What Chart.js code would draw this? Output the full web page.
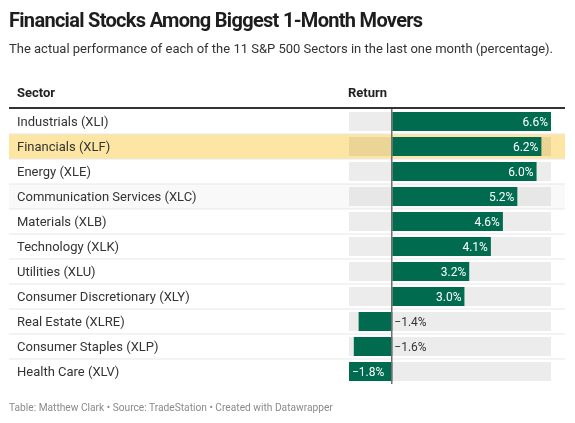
<!DOCTYPE html>
<html>
<head>
<meta charset="utf-8">
<script src="https://cdn.jsdelivr.net/npm/chart.js@4"></script>
<style>
    html, body { margin: 0; padding: 0; background: #ffffff; }
    body { width: 575px; height: 423px; position: relative; overflow: hidden; font-family: Roboto, 'Noto Sans', sans-serif; color: #333333; }
    #chart { position: absolute; left: 0; top: 0; }
    .txt { position: absolute; white-space: nowrap; }
    .title { left: 9px; top: 7px; font-size: 20px; line-height: 26px; font-weight: 700; color: #1d1d1d; letter-spacing: -0.7px; }
    .subtitle { left: 9px; top: 41px; font-size: 13px; line-height: 16px; color: #333333; }
    .head { top: 85px; font-size: 13px; line-height: 16px; font-weight: 700; color: #222222; }
    .footer { left: 9px; top: 401px; font-size: 10.2px; line-height: 14px; color: #8a8a8a; }
</style>
</head>
<body>
<canvas id="chart" width="575" height="423"></canvas>
<div class="txt title">Financial Stocks Among Biggest 1-Month Movers</div>
<div class="txt subtitle">The actual performance of each of the 11 S&amp;P 500 Sectors in the last one month (percentage).</div>
<div class="txt head" style="left:17px">Sector</div>
<div class="txt head" style="left:348px">Return</div>
<div class="txt footer">Table: Matthew Clark • Source: TradeStation • Created with Datawrapper</div>
<script>
(function () {
    'use strict';

    var sectors = [
        'Industrials (XLI)',
        'Financials (XLF)',
        'Energy (XLE)',
        'Communication Services (XLC)',
        'Materials (XLB)',
        'Technology (XLK)',
        'Utilities (XLU)',
        'Consumer Discretionary (XLY)',
        'Real Estate (XLRE)',
        'Consumer Staples (XLP)',
        'Health Care (XLV)'
    ];
    var returns = [6.6, 6.2, 6.0, 5.2, 4.6, 4.1, 3.2, 3.0, -1.4, -1.6, -1.8];
    var highlighted = ['Financials (XLF)'];
    var tinted = ['Communication Services (XLC)'];

    var C = {
        green: '#006b4f',
        track: 'rgba(0,0,0,0.075)',
        yellow: '#fde6a3',
        text: '#333333',
        rule: '#333333',
        sep: '#e8e8e8',
        zero: '#6e6e6e',
        white: '#ffffff'
    };

    var lo = Math.min.apply(null, returns);
    var hi = Math.max.apply(null, returns);
    var track = sectors.map(function () { return [lo, hi]; });

    function fmt(v) {
        return (v < 0 ? '\u2212' : '') + Math.abs(v).toFixed(1) + '%';
    }

    var tablePlugin = {
        id: 'tableRows',
        beforeDraw: function (chart) {
            var ctx = chart.ctx, y = chart.scales.y, area = chart.chartArea;
            var rowH = y.getPixelForValue(1) - y.getPixelForValue(0);
            ctx.save();
            sectors.forEach(function (name, i) {
                var top = y.getPixelForValue(i) - rowH / 2;
                if (highlighted.indexOf(name) >= 0) {
                    ctx.fillStyle = C.yellow;
                    ctx.fillRect(9, top, 556, rowH);
                } else if (tinted.indexOf(name) >= 0) {
                    ctx.fillStyle = 'rgba(0,0,0,0.025)';
                    ctx.fillRect(9, top, 556, rowH);
                }
                if (i > 0) {
                    ctx.fillStyle = C.sep;
                    ctx.fillRect(9, top - 0.5, 556, 1);
                }
            });
            ctx.fillStyle = C.rule;
            ctx.fillRect(9, area.top - 2, 556, 2);
            ctx.restore();
        },
        afterDatasetsDraw: function (chart) {
            var ctx = chart.ctx, x = chart.scales.x, area = chart.chartArea;
            var meta = chart.getDatasetMeta(1);
            var x0 = x.getPixelForValue(0);
            ctx.save();
            ctx.fillStyle = C.zero;
            ctx.fillRect(Math.round(x0) - 1, area.top, 1.5, area.bottom - area.top);
            ctx.font = "12px Roboto, 'Noto Sans', sans-serif";
            ctx.textBaseline = 'middle';
            meta.data.forEach(function (bar, i) {
                var v = returns[i];
                var label = fmt(v);
                var w = Math.abs(bar.x - bar.base);
                var tw = ctx.measureText(label).width;
                if (v >= 0) {
                    ctx.fillStyle = C.white;
                    ctx.textAlign = 'right';
                    ctx.fillText(label, bar.x - 3, bar.y + 1);
                } else if (w > tw + 8) {
                    ctx.fillStyle = C.white;
                    ctx.textAlign = 'left';
                    ctx.fillText(label, bar.x + 3, bar.y + 1);
                } else {
                    ctx.fillStyle = C.text;
                    ctx.textAlign = 'left';
                    ctx.fillText(label, x0 + 2, bar.y + 1);
                }
            });
            ctx.restore();
        }
    };

    new Chart(document.getElementById('chart'), {
        type: 'bar',
        data: {
            labels: sectors,
            datasets: [{
                data: track,
                backgroundColor: C.track,
                grouped: false,
                order: 1,
                barPercentage: 0.76,
                categoryPercentage: 1
            }, {
                data: returns,
                backgroundColor: C.green,
                grouped: false,
                order: 0,
                barPercentage: 0.76,
                categoryPercentage: 1
            }]
        },
        options: {
            indexAxis: 'y',
            responsive: false,
            animation: false,
            events: [],
            layout: { padding: { left: 17, right: 24, top: 109, bottom: 39 } },
            plugins: { legend: { display: false }, tooltip: { enabled: false } },
            scales: {
                x: { display: false, min: lo, max: hi },
                y: {
                    grid: { display: false },
                    border: { display: false },
                    afterFit: function (axis) { axis.width = 332; },
                    ticks: {
                        crossAlign: 'far',
                        padding: 0,
                        labelOffset: 1.5,
                        color: C.text,
                        font: { family: "Roboto, 'Noto Sans', sans-serif", size: 13 }
                    }
                }
            }
        },
        plugins: [tablePlugin]
    });
})();
</script>
</body>
</html>
